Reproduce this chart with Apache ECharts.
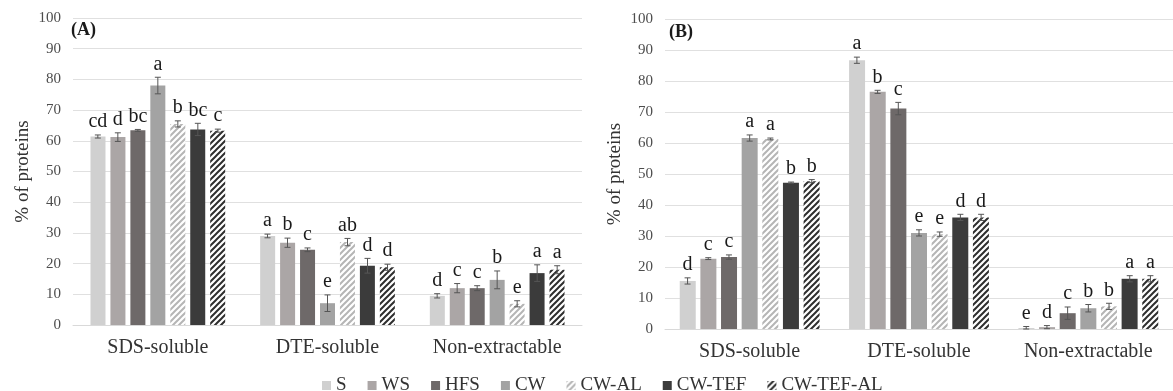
<!DOCTYPE html>
<html>
<head>
<meta charset="utf-8">
<script src="https://cdn.jsdelivr.net/npm/echarts@6/dist/echarts.min.js"></script>
<style>
  html, body { margin: 0; padding: 0; background: #fff; }
  #chart { width: 1173px; height: 391px; }
</style>
</head>
<body>
<div id="chart"></div>
<script>
// categories and treatments
const categories = ["SDS-soluble", "DTE-soluble", "Non-extractable"];
const treatments = ["S", "WS", "HFS", "CW", "CW-AL", "CW-TEF", "CW-TEF-AL"];
const yTicks = [0, 100, 10];

// panel (A): one row per treatment, [SDS, DTE, Non-extractable]
const meansA = [
  [61.4, 29.0, 9.5],
  [61.2, 26.8, 12.0],
  [63.4, 24.5, 12.0],
  [78.0, 7.1, 14.7],
  [65.5, 27.0, 6.9],
  [63.7, 19.3, 16.9],
  [63.3, 18.8, 18.0]
];
const errA = [
  [0.5, 0.6, 0.7],
  [1.4, 1.5, 1.5],
  [0.3, 0.6, 0.8],
  [2.7, 2.7, 2.9],
  [1.0, 1.2, 1.0],
  [2.0, 2.4, 2.7],
  [0.5, 1.0, 1.3]
];
const lettersA = [
  ["cd", "a", "d"],
  ["d", "b", "c"],
  ["bc", "c", "c"],
  ["a", "e", "b"],
  ["b", "ab", "e"],
  ["bc", "d", "a"],
  ["c", "d", "a"]
];

// panel (B)
const meansB = [
  [15.5, 86.7, 0.3],
  [22.7, 76.5, 0.6],
  [23.2, 71.1, 5.1],
  [61.6, 31.0, 6.7],
  [61.3, 30.6, 7.3],
  [47.2, 36.0, 16.2],
  [47.7, 36.0, 16.2]
];
const errB = [
  [1.0, 1.0, 0.5],
  [0.3, 0.5, 0.5],
  [0.7, 2.0, 2.0],
  [1.0, 1.0, 1.2],
  [0.3, 0.7, 1.0],
  [0.2, 1.0, 1.0],
  [0.5, 1.0, 1.0]
];
const lettersB = [
  ["d", "a", "e"],
  ["c", "b", "d"],
  ["c", "c", "c"],
  ["a", "e", "b"],
  ["a", "e", "b"],
  ["b", "d", "a"],
  ["b", "d", "a"]
];

// hatched fill for the -AL treatments
function hatch(color) {
  const s = 6;
  const c = document.createElement("canvas");
  c.width = s;
  c.height = s;
  const ctx = c.getContext("2d");
  ctx.fillStyle = "#ffffff";
  ctx.fillRect(0, 0, s, s);
  ctx.strokeStyle = color;
  ctx.lineWidth = 2;
  ctx.beginPath();
  ctx.moveTo(0, s); ctx.lineTo(s, 0);
  ctx.moveTo(-1, 1); ctx.lineTo(1, -1);
  ctx.moveTo(s - 1, s + 1); ctx.lineTo(s + 1, s - 1);
  ctx.stroke();
  return { image: c, repeat: "repeat" };
}

const colors = [
  "#d0d0d0",
  "#aba6a6",
  "#6e6969",
  "#a3a3a3",
  hatch("#b5b5b5"),
  "#3b3b3b",
  hatch("#2e2e2e")
];

const serif = "'Liberation Serif', 'Times New Roman', serif";

const panels = [
  { means: meansA, err: errA, letters: lettersA, barWidth: 15, gap: "33%", pitch: 20 },
  { means: meansB, err: errB, letters: lettersB, barWidth: 16, gap: "29%", pitch: 20.7 }
];

const series = [];
panels.forEach((p, pi) => {
  treatments.forEach((t, ti) => {
    series.push({
      name: t,
      type: "bar",
      xAxisIndex: pi,
      yAxisIndex: pi,
      barWidth: p.barWidth,
      barGap: p.gap,
      itemStyle: { color: colors[ti] },
      data: p.means[ti]
    });
  });
  // error bars + significance letters
  const items = [];
  treatments.forEach((t, ti) => {
    categories.forEach((c, ci) => {
      items.push({ ci: ci, ti: ti, v: p.means[ti][ci], e: p.err[ti][ci], l: p.letters[ti][ci] });
    });
  });
  series.push({
    type: "custom",
    xAxisIndex: pi,
    yAxisIndex: pi,
    z: 5,
    silent: true,
    data: items.map((d) => [d.ci, d.v]),
    renderItem: function (params, api) {
      const d = items[params.dataIndex];
      const top = api.coord([d.ci, d.v + d.e]);
      const bot = api.coord([d.ci, Math.max(0, d.v - d.e)]);
      const x = top[0] + (d.ti - 3) * p.pitch;
      const st = { stroke: "#555", lineWidth: 1 };
      return {
        type: "group",
        children: [
          { type: "line", shape: { x1: x, y1: top[1], x2: x, y2: bot[1] }, style: st },
          { type: "line", shape: { x1: x - 3, y1: top[1], x2: x + 3, y2: top[1] }, style: st },
          { type: "line", shape: { x1: x - 3, y1: bot[1], x2: x + 3, y2: bot[1] }, style: st },
          {
            type: "text",
            style: {
              x: x,
              y: top[1] - 3,
              text: d.l,
              align: "center",
              verticalAlign: "bottom",
              font: "20px " + serif,
              fill: "#1a1a1a"
            }
          }
        ]
      };
    }
  });
});

function xAxis(gi) {
  return {
    type: "category",
    gridIndex: gi,
    data: categories,
    axisTick: { show: false },
    axisLine: { lineStyle: { color: "#d9d9d9", width: 1 } },
    axisLabel: { color: "#333333", fontFamily: serif, fontSize: 20, margin: 13 }
  };
}
function yAxis(gi) {
  return {
    type: "value",
    gridIndex: gi,
    min: yTicks[0],
    max: yTicks[1],
    interval: yTicks[2],
    name: "% of proteins",
    nameLocation: "middle",
    nameGap: 40,
    nameTextStyle: { color: "#333333", fontFamily: serif, fontSize: 19 },
    axisLine: { show: false },
    axisTick: { show: false },
    axisLabel: { color: "#4d4d4d", fontFamily: serif, fontSize: 15, margin: 12 },
    splitLine: { lineStyle: { color: "#e0e0e0", width: 1 } }
  };
}

const chart = echarts.init(document.getElementById("chart"));
chart.setOption({
  animation: false,
  backgroundColor: "#ffffff",
  title: [
    { text: "(A)", left: 71, top: 21, padding: 0, textStyle: { fontFamily: serif, fontSize: 18, fontWeight: "bold", color: "#1a1a1a" } },
    { text: "(B)", left: 669, top: 23, padding: 0, textStyle: { fontFamily: serif, fontSize: 18, fontWeight: "bold", color: "#1a1a1a" } }
  ],
  legend: {
    data: treatments,
    left: 317,
    top: 371,
    icon: "rect",
    itemWidth: 9,
    itemHeight: 9,
    itemGap: 21,
    textStyle: { color: "#333333", fontFamily: serif, fontSize: 19 }
  },
  grid: [
    { left: 73, top: 18, width: 509, height: 307 },
    { left: 665, top: 19, width: 522, height: 310 }
  ],
  xAxis: [xAxis(0), xAxis(1)],
  yAxis: [yAxis(0), yAxis(1)],
  series: series
});
</script>
</body>
</html>
